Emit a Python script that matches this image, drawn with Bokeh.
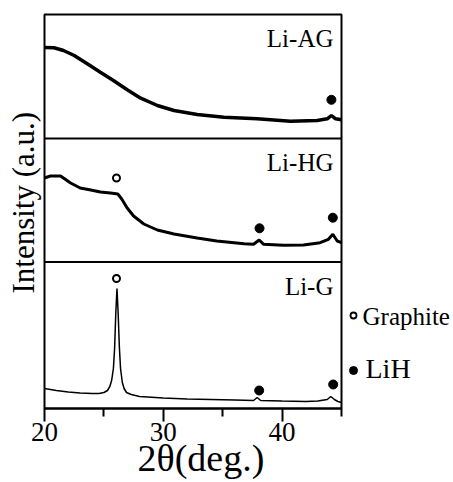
from bokeh.plotting import figure
from bokeh.layouts import row
from bokeh.models import Range1d, FixedTicker, Span, Label, Title
from bokeh.embed import file_html
from bokeh.resources import INLINE

# ---- data (2theta in degrees, intensity in a.u. above each panel's floor) ----
x_ag = [20.0, 20.8, 21.6, 22.5, 23.6, 24.7, 25.8, 26.96, 28.1, 29.5, 30.9, 32.85,
        35.1, 37.9, 40.7, 42.95, 43.8, 44.15, 44.5, 45.0]
i_ag = [91, 90.7, 88, 83, 74.7, 66.3, 58, 48.7, 40.3, 33, 28, 24,
        21.3, 19.7, 17.3, 18, 19.7, 23, 19.7, 18.7]

x_hg = [20.0, 20.5, 21.35, 22.2, 23.0, 23.9, 24.7, 25.55, 26.17, 26.5, 26.96, 27.5,
        28.36, 29.5, 30.9, 32.85, 34.5, 36.8, 37.6, 38.07, 38.45, 40.1, 41.8, 43.2,
        43.9, 44.27, 44.64, 45.0]
i_hg = [84, 86, 86, 79, 74, 72, 70, 69, 68, 63, 54, 46,
        38, 32, 28, 24, 21, 18.3, 17.7, 22, 17.7, 16.7, 17, 19.3,
        22.7, 27.7, 21, 19.3]

x_g = [20.0, 21.0, 22.0, 23.0, 24.0, 24.6, 25.0, 25.3, 25.5, 25.65, 25.8, 25.9,
       26.0, 26.1, 26.2, 26.3, 26.4, 26.55, 26.7, 26.9, 27.3, 28.0, 30.0, 32.0,
       34.0, 36.0, 37.6, 37.9, 38.2, 40.0, 42.0, 43.0, 43.8, 44.1, 44.4, 44.7, 45.0]
i_g = [20, 18, 16.5, 15.5, 15, 15, 16, 18, 22, 28, 40, 60,
       95, 120, 95, 62, 40, 26, 20, 16, 14, 12, 10.5, 9.5,
       9, 8.5, 8, 11, 8, 7.5, 7, 7.5, 9, 12, 9, 7, 6]

# phase markers (x, intensity level) per sample
graphite_hg_x = [26.06]; graphite_hg_i = [84]
graphite_g_x = [26.06];  graphite_g_i = [130]
lih_ag_x = [44.15];        lih_ag_i = [38.7]
lih_hg_x = [38.1, 44.27];  lih_hg_i = [33.7, 44.3]
lih_g_x = [38.07, 44.3];   lih_g_i = [18, 24]

samples = ["Li-AG", "Li-HG", "Li-G"]
phases = ["Graphite", "LiH"]
x_ticks = [20, 30, 40]
x_minor = [25, 35, 45]

# ---- layout ----
panel_floor = {"Li-G": 0.0, "Li-HG": 146.5, "Li-AG": 270.0}
y_top = 394.0
FONT = "Liberation Serif"

W_MAIN, W_LEG, H = 343, 110, 482
p = figure(width=W_MAIN, height=H, output_backend="svg", toolbar_location=None,
           x_range=Range1d(20, 45), y_range=Range1d(0, y_top),
           min_border_left=44, min_border_right=2, min_border_top=14,
           min_border_bottom=74)
p.background_fill_color = "white"
p.border_fill_color = "white"
p.outline_line_color = "black"
p.outline_line_width = 2
p.xgrid.visible = False
p.ygrid.visible = False
p.yaxis.visible = False

ax = p.xaxis[0]
ax.ticker = FixedTicker(ticks=x_ticks, minor_ticks=x_minor)
ax.axis_line_width = 2
ax.major_tick_line_width = 2
ax.minor_tick_line_width = 2
ax.major_tick_in = 0
ax.major_tick_out = 13
ax.minor_tick_in = 0
ax.minor_tick_out = 8
ax.major_label_text_font = FONT
ax.major_label_text_font_size = "27px"
ax.major_label_text_color = "black"
ax.major_label_standoff = 1

for yb in (panel_floor["Li-HG"], panel_floor["Li-AG"]):
    p.add_layout(Span(location=yb, dimension="width", line_color="black", line_width=2))

def lift(vals, name):
    return [v + panel_floor[name] for v in vals]

p.line(x_ag, lift(i_ag, "Li-AG"), line_color="black", line_width=3.5)
p.line(x_hg, lift(i_hg, "Li-HG"), line_color="black", line_width=3)
p.line(x_g, lift(i_g, "Li-G"), line_color="black", line_width=1.5)

p.scatter(graphite_hg_x + graphite_g_x,
          lift(graphite_hg_i, "Li-HG") + lift(graphite_g_i, "Li-G"),
          size=7, fill_color="white", line_color="black", line_width=2)
p.scatter(lih_ag_x + lih_hg_x + lih_g_x,
          lift(lih_ag_i, "Li-AG") + lift(lih_hg_i, "Li-HG") + lift(lih_g_i, "Li-G"),
          size=9, fill_color="black", line_color="black")

# sample names inside the panels
ceilings = {"Li-AG": y_top, "Li-HG": panel_floor["Li-AG"], "Li-G": panel_floor["Li-HG"]}
for name, top_gap in zip(samples, (24, 23.5, 24)):
    p.add_layout(Label(x=45, x_offset=-8, y=ceilings[name] - top_gap, text=name,
                       text_font=FONT, text_font_size="25px", text_align="right",
                       text_baseline="alphabetic", text_color="black"))

# axis titles
p.add_layout(Title(text="Intensity (a.u.)", text_font=FONT, text_font_size="31px",
                   text_font_style="normal", align="left", vertical_align="top",
                   offset=115, standoff=4, text_color="black"), "left")
p.add_layout(Title(text="2θ(deg.)", text_font=FONT, text_font_size="38px",
                   text_font_style="normal", align="left", vertical_align="top",
                   offset=93, standoff=-13, text_color="black"), "below")

# legend panel to the right (page-pixel coordinates; frame aligned to main frame)
lg = figure(width=W_LEG, height=H, output_backend="svg", toolbar_location=None,
            x_range=Range1d(W_MAIN, W_MAIN + W_LEG), y_range=Range1d(408, 14),
            min_border=0, min_border_left=0, min_border_right=0,
            min_border_top=0, min_border_bottom=0)
lg.outline_line_color = None
lg.axis.visible = False
lg.grid.visible = False
lg.background_fill_color = "white"
lg.border_fill_color = "white"

lg.scatter([353], [315], size=6, fill_color="white", line_color="black", line_width=1.8)
lg.scatter([353], [370], size=8, fill_color="black", line_color="black")
lg.text([362], [316], text=[phases[0]], text_font={"value": FONT},
        text_font_size="25px", text_baseline="middle", text_color="black")
lg.text([365], [368], text=[phases[1]], text_font={"value": FONT},
        text_font_size="28px", text_baseline="middle", text_color="black")

layout = row(p, lg, spacing=0)
open("out.html", "w").write(file_html(layout, INLINE))
